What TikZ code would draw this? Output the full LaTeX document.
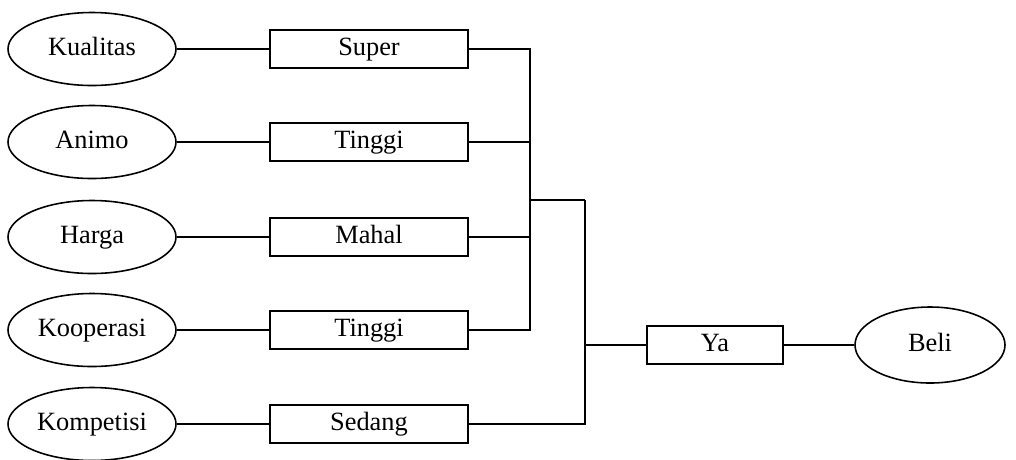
\documentclass[tikz,border=0pt]{standalone}
\usepackage{fontspec}
\setmainfont{Liberation Serif}
\usetikzlibrary{shapes.geometric}

\begin{document}
\begin{tikzpicture}[x=0.2mm, y=-0.2mm]
        \tikzstyle{every node} = [draw, line width=0.9pt, font=\fontsize{15}{18}\selectfont, text height=10pt, text depth=3pt]
        \tikzstyle{attr} = [ellipse, minimum width=3.36cm, minimum height=1.46cm, inner sep=0pt]
        \tikzstyle{val} = [rectangle, minimum width=3.96cm, minimum height=0.76cm, inner sep=0pt]
        \useasboundingbox (0,0) rectangle (1016,459);
        % atribut
        \node[attr] (kualitas) at (92,49) {Kualitas};
        \node[attr] (animo) at (92,142) {Animo};
        \node[attr] (harga) at (92,237) {Harga};
        \node[attr] (kooperasi) at (92,330) {Kooperasi};
        \node[attr] (kompetisi) at (92,424) {Kompetisi};
        % nilai
        \node[val] (super) at (369,49) {Super};
        \node[val] (tinggiA) at (369,142) {Tinggi};
        \node[val] (mahal) at (369,237) {Mahal};
        \node[val] (tinggiB) at (369,330) {Tinggi};
        \node[val] (sedang) at (369,424) {Sedang};
        \node[val, minimum width=2.72cm] (ya) at (715,345) {Ya};
        \node[attr, minimum width=3cm, minimum height=1.52cm] (beli) at (930,345) {Beli};
        \coordinate (j1) at (530,200);
        \coordinate (j2) at (585,200);
        \foreach \from/\to in {kualitas/super, animo/tinggiA, harga/mahal, kooperasi/tinggiB, kompetisi/sedang, ya/beli}
            \draw[line width=0.9pt] (\from) -- (\to);
        \foreach \from in {super, tinggiA, mahal, tinggiB}
            \draw[line width=0.9pt] (\from.east) -| (j1);
        \draw[line width=0.9pt] (j1) -- (j2);
        \draw[line width=0.9pt] (sedang.east) -| (j2);
        \draw[line width=0.9pt] (ya.west) -| (j2);
    \end{tikzpicture}
\end{document}
